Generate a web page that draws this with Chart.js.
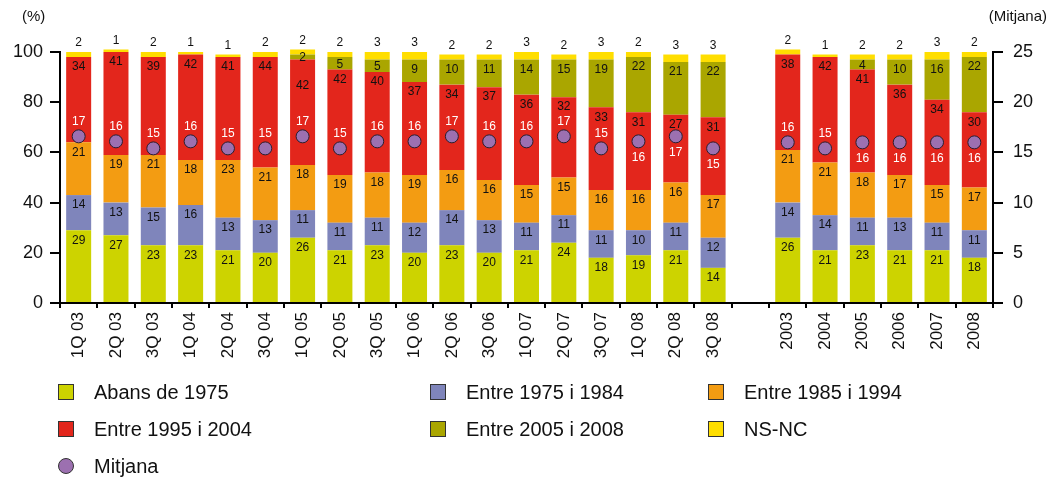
<!DOCTYPE html>
<html>
<head>
<meta charset="utf-8">
<script src="https://cdn.jsdelivr.net/npm/chart.js@4.4.0/dist/chart.umd.min.js"></script>
<style>
  body { margin: 0; background: #fff; font-family: "Liberation Sans", Arial, sans-serif; }
  #wrap { position: relative; width: 1048px; height: 478px; }
  #chart { position: absolute; left: 0; top: 0; }
  #legend {
    position: absolute; left: 58px; top: 381px;
    display: grid; grid-template-columns: 372px 278px 260px; row-gap: 15px;
    font-size: 20px; color: #111;
  }
  .item { display: flex; align-items: center; height: 22px; white-space: nowrap; }
  .box { width: 16px; height: 16px; border: 1px solid #333; margin-right: 20px; box-sizing: border-box; }
  .dot { border-radius: 50%; }
</style>
</head>
<body>
<div id="wrap">
  <canvas id="chart" width="1048" height="478"></canvas>
  <div id="legend"></div>
</div>
<script>
// categories (the empty one is the gap between quarters and years)
const categories = ["1Q 03", "2Q 03", "3Q 03", "1Q 04", "2Q 04", "3Q 04", "1Q 05", "2Q 05", "3Q 05",
  "1Q 06", "2Q 06", "3Q 06", "1Q 07", "2Q 07", "3Q 07", "1Q 08", "2Q 08", "3Q 08", "",
  "2003", "2004", "2005", "2006", "2007", "2008"];

const seriesNames = ["Abans de 1975", "Entre 1975 i 1984", "Entre 1985 i 1994",
  "Entre 1995 i 2004", "Entre 2005 i 2008", "NS-NC"];
const seriesColors = ["#cdd300", "#7f85bb", "#f39c12", "#e3261c", "#aaa600", "#ffde00"];

const abans1975 = [29, 27, 23, 23, 21, 20, 26, 21, 23, 20, 23, 20, 21, 24, 18, 19, 21, 14, null, 26, 21, 23, 21, 21, 18];
const entre7584 = [14, 13, 15, 16, 13, 13, 11, 11, 11, 12, 14, 13, 11, 11, 11, 10, 11, 12, null, 14, 14, 11, 13, 11, 11];
const entre8594 = [21, 19, 21, 18, 23, 21, 18, 19, 18, 19, 16, 16, 15, 15, 16, 16, 16, 17, null, 21, 21, 18, 17, 15, 17];
const entre9504 = [34, 41, 39, 42, 41, 44, 42, 42, 40, 37, 34, 37, 36, 32, 33, 31, 27, 31, null, 38, 42, 41, 36, 34, 30];
const entre0508 = [0, 0, 0, 0, 0, 0, 2, 5, 5, 9, 10, 11, 14, 15, 19, 22, 21, 22, null, 0, 0, 4, 10, 16, 22];
const nsnc = [2, 1, 2, 1, 1, 2, 2, 2, 3, 3, 2, 2, 3, 2, 3, 2, 3, 3, null, 2, 1, 2, 2, 3, 2];

// average (right axis)
const mitjana = [16.6, 16.1, 15.4, 16.1, 15.4, 15.4, 16.6, 15.4, 16.1, 16.1, 16.6, 16.1, 16.1, 16.6, 15.4, 16.1, 16.6, 15.4, null,
  16.0, 15.4, 16.0, 16.0, 16.0, 16.0];
const mitjanaColor = "#9c70b0";

// average labels drawn under the dot for these columns
const mitjanaBelow = [15, 16, 17, 21, 22, 23, 24];

const seriesData = [abans1975, entre7584, entre8594, entre9504, entre0508, nsnc];

const font = '"Liberation Sans", Arial, sans-serif';

const barDatasets = seriesData.map((d, i) => ({
  label: seriesNames[i],
  data: d,
  backgroundColor: seriesColors[i],
  borderWidth: 0,
  barPercentage: 0.67,
  categoryPercentage: 1,
  stack: "s",
  yAxisID: "y",
  clip: false,
  order: 2
}));

const labelPlugin = {
  id: "valueLabels",
  afterDatasetsDraw(chart) {
    const ctx = chart.ctx;
    ctx.save();
    ctx.textAlign = "center";
    ctx.textBaseline = "middle";
    ctx.font = "12px " + font;
    ctx.fillStyle = "#111";
    seriesData.forEach((d, i) => {
      const meta = chart.getDatasetMeta(i);
      meta.data.forEach((el, j) => {
        const v = d[j];
        if (!v) return;
        if (i === 5) { ctx.fillText(v, el.x, el.y - 9); return; }
        const h = el.base - el.y;
        let y = el.y + Math.min(10, h / 2 + 1);
        // segment just above is too thin: its label sits over this one, push down
        if (i < 4) {
          const above = chart.getDatasetMeta(i + 1).data[j];
          const hv = seriesData[i + 1][j];
          if (i + 1 < 5 && hv && (above.base - above.y) < 8) y += 16;
        }
        ctx.fillText(v, el.x, y);
      });
    });
    const meta = chart.getDatasetMeta(6);
    ctx.fillStyle = "#fff";
    meta.data.forEach((el, j) => {
      const v = mitjana[j];
      if (v == null) return;
      const dy = mitjanaBelow.includes(j) ? 16 : -15;
      ctx.fillText(Math.round(v), el.x, el.y + dy);
    });
    // axis unit captions
    ctx.fillStyle = "#111";
    ctx.font = "15px " + font;
    ctx.textAlign = "left";
    ctx.fillText("(%)", 22, 17);
    ctx.textAlign = "right";
    ctx.fillText("(Mitjana)", 1047, 17);
    ctx.restore();
  }
};

const axisStyle = {
  border: { display: true, color: "#000", width: 2 },
  grid: { drawOnChartArea: false, drawTicks: true, tickLength: 10, color: "#000", lineWidth: 2 },
  ticks: { color: "#111", font: { size: 18, family: font } }
};

new Chart(document.getElementById("chart"), {
  type: "bar",
  data: {
    labels: categories,
    datasets: [
      ...barDatasets,
      {
        type: "line",
        label: "Mitjana",
        data: mitjana,
        yAxisID: "y2",
        showLine: false,
        pointRadius: 6.5,
        pointHoverRadius: 6.5,
        pointBackgroundColor: mitjanaColor,
        pointBorderColor: "#2a1f30",
        pointBorderWidth: 1,
        order: 1
      }
    ]
  },
  options: {
    responsive: false,
    animation: false,
    layout: { padding: { top: 52, bottom: 105, left: 0, right: 0 } },
    plugins: { legend: { display: false }, tooltip: { enabled: false } },
    scales: {
      x: {
        stacked: true,
        offset: true,
        border: { display: true, color: "#000", width: 2 },
        grid: { offset: true, drawOnChartArea: false, drawTicks: true, tickLength: 5, color: "#000", lineWidth: 2 },
        ticks: { color: "#111", font: { size: 17, family: font }, minRotation: 90, maxRotation: 90, autoSkip: false, padding: 4 },
        afterFit(scale) { scale.height = 70; }
      },
      y: {
        ...axisStyle,
        stacked: true,
        min: 0, max: 100,
        ticks: { ...axisStyle.ticks, stepSize: 20, padding: 7 },
        afterFit(scale) { scale.width = 60; }
      },
      y2: {
        ...axisStyle,
        position: "right",
        min: 0, max: 25,
        ticks: { ...axisStyle.ticks, stepSize: 5, padding: 10 },
        afterFit(scale) { scale.width = 55; }
      }
    }
  },
  plugins: [labelPlugin]
});

// legend
const legend = document.getElementById("legend");
const legendItems = seriesNames.map((n, i) => ({ name: n, color: seriesColors[i], dot: false }));
legendItems.push({ name: "Mitjana", color: mitjanaColor, dot: true });
legendItems.forEach(it => {
  const div = document.createElement("div");
  div.className = "item";
  div.innerHTML = `<span class="box${it.dot ? " dot" : ""}" style="background:${it.color}"></span>${it.name}`;
  legend.appendChild(div);
});
</script>
</body>
</html>
